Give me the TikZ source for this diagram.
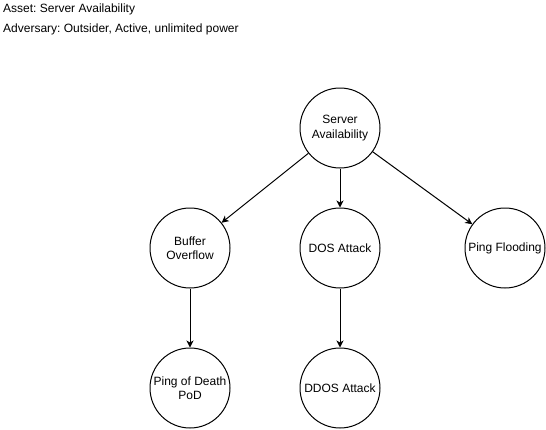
\documentclass[tikz,border=0pt]{standalone}
\usepackage{fontspec}
\setmainfont{Liberation Sans}
\usetikzlibrary{arrows.meta}
\frenchspacing
\begin{document}
\begin{tikzpicture}[x=1pt,y=-1pt,
  every node/.style={font=\fontsize{12}{14.4}\selectfont},
  circ/.style={circle,draw,line width=1pt,minimum size=80pt,inner sep=0pt,align=center},
  lbl/.style={anchor=west,inner sep=0pt},
  conn/.style={line width=1pt,-{Stealth[length=7pt,width=7pt,inset=2pt]}}]
\useasboundingbox (0,0) rectangle (546,429);
\node[lbl] (t1) at (3,9) {Asset: Server Availability};
\node[lbl] (t2) at (3,29) {Adversary: Outsider, Active, unlimited power};
\node[circ] (sa) at (340,128) {Server\\Availability};
\node[circ] (bo) at (190,248) {Buffer\\Overflow};
\node[circ] (dos) at (340,248) {DOS Attack};
\node[circ] (pf) at (505,248) {Ping Flooding};
\node[circ] (pod) at (190,388) {Ping of Death\\PoD};
\node[circ] (ddos) at (340,388) {DDOS Attack};
\draw[conn] (sa) -- (bo);
\draw[conn] (sa) -- (dos);
\draw[conn] (sa) -- (pf);
\draw[conn] (bo) -- (pod);
\draw[conn] (dos) -- (ddos);
\end{tikzpicture}
\end{document}
